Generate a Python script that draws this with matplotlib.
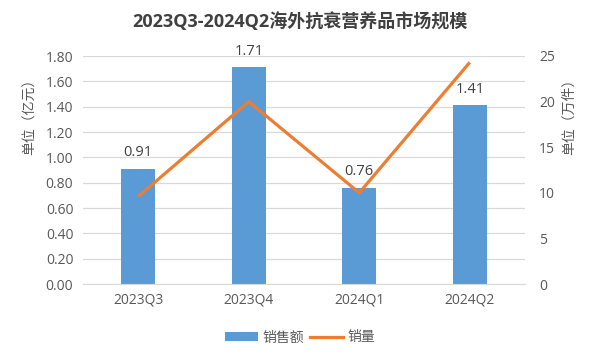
import matplotlib
matplotlib.use("Agg")
import matplotlib.pyplot as plt
from matplotlib.patches import Patch
from matplotlib.lines import Line2D
import numpy as np

plt.rcParams['font.family'] = ['Open Sans', 'Noto Sans CJK SC', 'DejaVu Sans']

categories = ['2023Q3', '2023Q4', '2024Q1', '2024Q2']
sales = [0.91, 1.71, 0.76, 1.41]          # 亿元
volume = [9.6, 20.0, 10.0, 24.3]          # 万件
left_ticks = [0.0, 0.2, 0.4, 0.6, 0.8, 1.0, 1.2, 1.4, 1.6, 1.8]
right_ticks = [0, 5, 10, 15, 20, 25]
title = '2023Q3-2024Q2海外抗衰营养品市场规模'
left_label = '单位（亿元）'
right_label = '单位（万件）'
legend_labels = ['销售额', '销量']

bar_color = '#5B9BD5'
line_color = '#ED7D31'
text_color = '#595959'
grid_color = '#D9D9D9'

fig = plt.figure(figsize=(6.0, 3.64), dpi=100)
ax = fig.add_axes([83/600, 1-284/364, 442/600, 228/364])
ax2 = ax.twinx()

x = np.arange(len(categories))
bars = ax.bar(x, sales, width=0.31, color=bar_color, zorder=2)
ax.set_xlim(-0.5, len(categories)-0.5)
ax.set_ylim(0, 1.8)
ax.set_yticks(left_ticks)
ax.set_yticklabels([f'{v:.2f}' for v in left_ticks])
ax.set_xticks(x)
ax.set_xticklabels(categories)
ax.grid(axis='y', color=grid_color, linewidth=0.9, zorder=0)
ax.set_axisbelow(True)
for s in ax.spines.values():
    s.set_visible(False)
ax.spines['bottom'].set_visible(True)
ax.spines['bottom'].set_color(grid_color)
ax.tick_params(axis='both', length=0, colors=text_color, labelsize=10)
ax.tick_params(axis='y', pad=7)
ax.tick_params(axis='x', pad=6)

for xi, v in zip(x, sales):
    ax.text(xi, v + 0.07, f'{v:.2f}', ha='center', va='bottom', fontsize=10.5, color='#404040', zorder=4)

ax2.plot(x, volume, color=line_color, linewidth=2.3, solid_capstyle='butt', zorder=3)
ax2.set_ylim(0, 25)
ax2.set_yticks(right_ticks)
ax2.set_yticklabels([str(v) for v in right_ticks])
for s in ax2.spines.values():
    s.set_visible(False)
ax2.tick_params(axis='y', length=0, colors=text_color, labelsize=10, pad=10)

fig.text(0.5, 1-22/364, title, ha='center', va='center', fontsize=13, fontweight='bold', color='#404040')
fig.text(30/600, 1-113/364, left_label, rotation=90, ha='center', va='center', fontsize=10, color=text_color)
fig.text(569/600, 1-113/364, right_label, rotation=90, ha='center', va='center', fontsize=10, color=text_color)

handles = [Patch(facecolor=bar_color, edgecolor='none'),
           Line2D([0], [0], color=line_color, linewidth=2.3)]
fig.legend(handles, legend_labels, loc='center', bbox_to_anchor=(0.5, 1-338/364), ncol=2,
           frameon=False, fontsize=10, labelcolor=text_color, handlelength=2.4, handleheight=0.6,
           handletextpad=0.3, columnspacing=0.4)

fig.savefig('out.png', dpi=100, facecolor='white')
